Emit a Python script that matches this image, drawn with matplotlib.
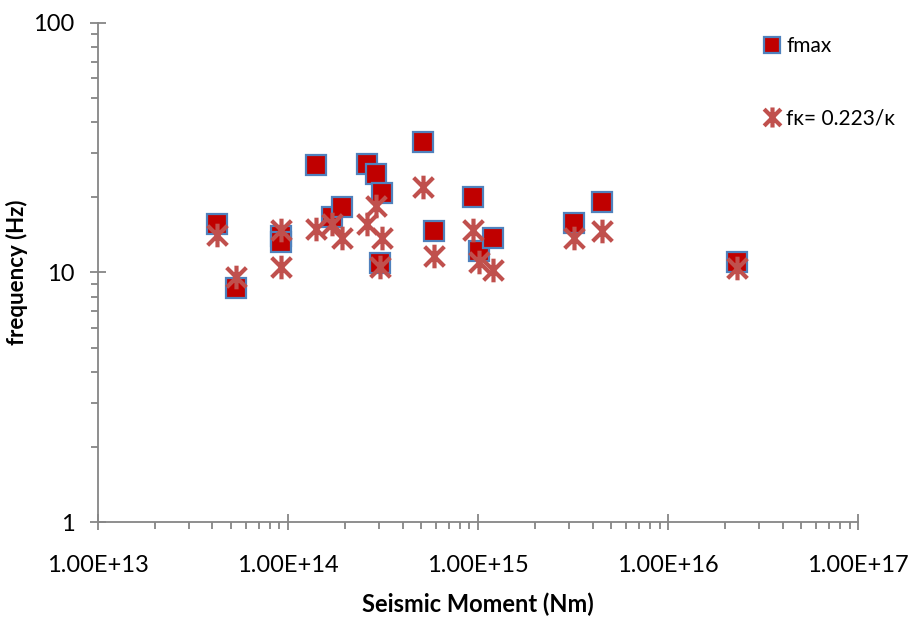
import numpy as np
import matplotlib
matplotlib.use('Agg')
import matplotlib.pyplot as plt
from matplotlib.path import Path
from matplotlib.ticker import FixedLocator, LogLocator, NullFormatter

plt.rcParams['font.family'] = ['Lato', 'DejaVu Sans']

# seismic moment (Nm) of each event
moment = [4.22e13, 5.35e13, 9.15e13, 9.15e13, 1.40e14, 1.70e14, 1.92e14, 2.59e14, 2.90e14,
          3.13e14, 3.03e14, 5.10e14, 5.85e14, 9.45e14, 1.01e15, 1.20e15, 3.21e15, 4.50e15, 2.31e16]
fmax = [15.6, 8.67, 14.0, 13.2, 27.0, 16.7, 18.3, 27.1, 24.8,
        20.8, 10.9, 33.4, 14.6, 20.0, 12.2, 13.8, 15.8, 19.2, 11.0]
fkappa = [14.1, 9.62, 14.8, 10.5, 15.0, 15.7, 13.7, 15.7, 18.5,
          13.7, 10.5, 22.1, 11.6, 14.8, 11.0, 10.2, 13.8, 14.7, 10.4]

xticks = [1e13, 1e14, 1e15, 1e16, 1e17]
xticklabels = ['1.00E+13', '1.00E+14', '1.00E+15', '1.00E+16', '1.00E+17']
yticks = [1, 10, 100]
yticklabels = ['1', '10', '100']

# asterisk marker: an x with a vertical bar
star = Path([(-1, -1), (1, 1), (-1, 1), (1, -1), (0, -1.2), (0, 1.2)],
            [Path.MOVETO, Path.LINETO, Path.MOVETO, Path.LINETO, Path.MOVETO, Path.LINETO])

fig = plt.figure(figsize=(9.1, 6.21), dpi=100)
ax = fig.add_axes([0.1077, 0.1594, 0.8355, 0.8036])

ax.plot(moment, fmax, linestyle='none', marker='s', markersize=14,
        markerfacecolor='#C00000', markeredgecolor='#4F81BD', markeredgewidth=1.6,
        label='fmax', zorder=3)
ax.plot(moment, fkappa, linestyle='none', marker=star, markersize=17,
        markeredgecolor='#C0504D', markerfacecolor='none', markeredgewidth=3.0,
        label='f\u03ba= 0.223/\u03ba', zorder=4)

ax.set_xscale('log')
ax.set_yscale('log')
ax.set_xlim(1e13, 1e17)
ax.set_ylim(1, 100)

ax.xaxis.set_major_locator(FixedLocator(xticks))
ax.set_xticklabels(xticklabels)
ax.yaxis.set_major_locator(FixedLocator(yticks))
ax.set_yticklabels(yticklabels)
ax.xaxis.set_minor_locator(LogLocator(base=10, subs=np.arange(2, 10)))
ax.yaxis.set_minor_locator(LogLocator(base=10, subs=np.arange(2, 10)))
ax.xaxis.set_minor_formatter(NullFormatter())
ax.yaxis.set_minor_formatter(NullFormatter())

grey = '#868686'
for s in ['top', 'right']:
    ax.spines[s].set_visible(False)
for s in ['left', 'bottom']:
    ax.spines[s].set_color(grey)
    ax.spines[s].set_linewidth(1.3)

ax.tick_params(which='major', direction='inout', length=12, width=1.3, color=grey,
               labelsize=17, labelcolor='black')
ax.tick_params(which='minor', direction='out', length=5, width=1.3, color=grey)
ax.tick_params(axis='x', which='major', pad=18)
ax.tick_params(axis='y', which='major', pad=11)

ax.set_xlabel('Seismic Moment (Nm)', fontsize=17, fontweight='bold', labelpad=12)
ax.set_ylabel('frequency (Hz)', fontsize=16, fontweight='bold', labelpad=4)

ax.legend(loc='upper left', bbox_to_anchor=(0.815, 0.972), bbox_transform=fig.transFigure,
          frameon=False, fontsize=15, labelspacing=2.5, handletextpad=0.15,
          handlelength=1.1, markerscale=0.85)

fig.savefig('out.png', dpi=100)
